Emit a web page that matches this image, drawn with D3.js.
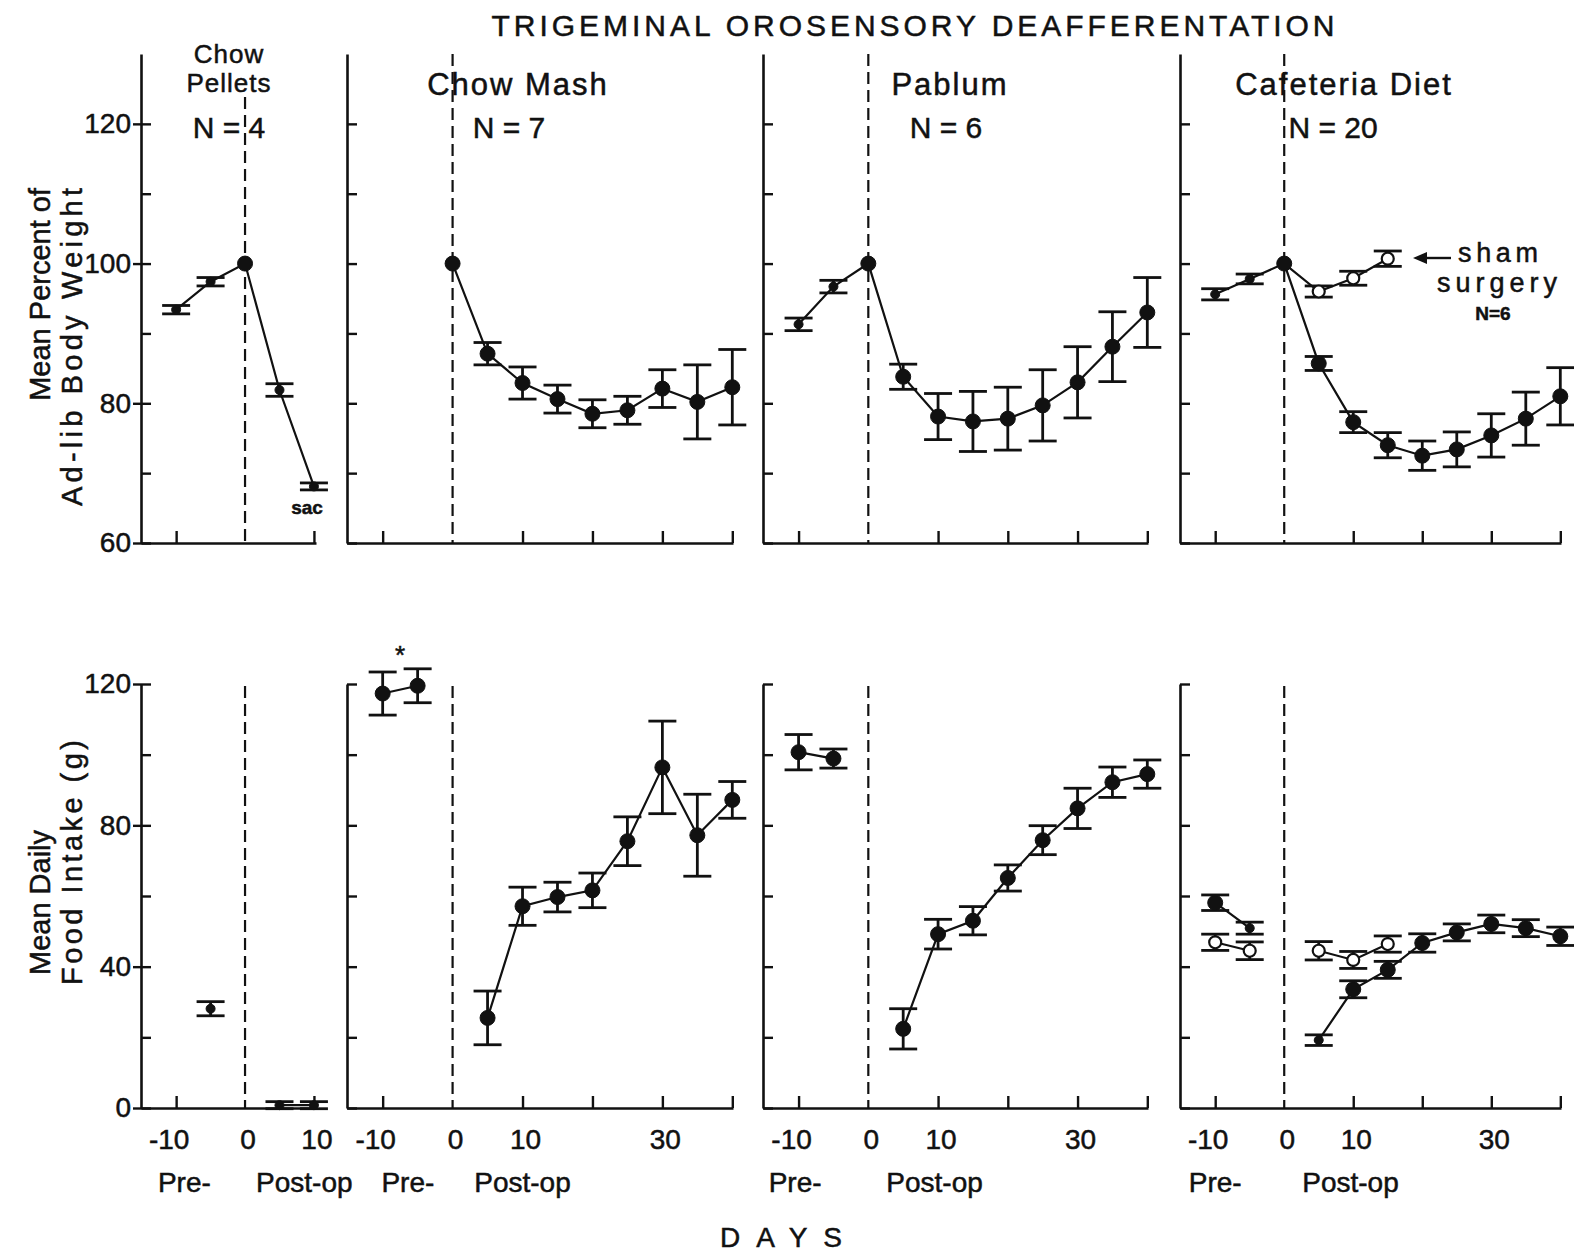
<!DOCTYPE html>
<html>
<head>
<meta charset="utf-8">
<script src="https://cdn.jsdelivr.net/npm/d3@7"></script>
<style>
  body { margin: 0; background: #fff; }
  text { font-family: "Liberation Sans", Arial, sans-serif; fill: #111; stroke: #111; stroke-width: 0.5px; }
</style>
</head>
<body>
<script>
// sampling days (day 0 = surgery)
const days = [-10, -5, 0, 5, 10, 15, 20, 25, 30, 35, 40];

// mean percent of ad-lib body weight (null = not measured)
const pelletsWeight    = [93.4, 97.4, 100, 81.9, 68.1, null, null, null, null, null, null];
const pelletsWeightErr = [0.6, 0.6, 0, 0.9, 0.5, null, null, null, null, null, null];
const mashWeight       = [null, null, 100, 87.1, 82.9, 80.6, 78.5, 79.0, 82.1, 80.2, 82.3];
const mashWeightErr    = [null, null, 0, 1.6, 2.3, 2.0, 2.0, 2.0, 2.7, 5.3, 5.4];
const pablumWeight     = [91.3, 96.7, 100, 83.8, 78.1, 77.4, 77.8, 79.7, 83.0, 88.1, 93.0];
const pablumWeightErr  = [0.9, 0.9, 0, 1.8, 3.3, 4.3, 4.5, 5.1, 5.1, 5.0, 5.0];
const cafWeight        = [95.6, 97.8, 100, 85.7, 77.3, 74.0, 72.5, 73.4, 75.4, 77.8, 81.0];
const cafWeightErr     = [0.8, 0.7, 0, 1.0, 1.5, 1.8, 2.1, 2.5, 3.1, 3.8, 4.1];
const shamWeight       = [null, null, 100, 96.0, 97.9, 100.7, null, null, null, null, null];
const shamWeightErr    = [null, null, 0, 0.8, 1.0, 1.1, null, null, null, null, null];

// mean daily food intake (g)
const pelletsIntake    = [null, 28.1, null, 0.8, 0.8, null, null, null, null, null, null];
const pelletsIntakeErr = [null, 2.0, null, 1.0, 1.0, null, null, null, null, null, null];
const mashIntake       = [117.3, 119.5, null, 25.5, 57.1, 59.7, 61.6, 75.5, 96.4, 77.2, 87.2];
const mashIntakeErr    = [6.1, 4.8, null, 7.6, 5.4, 4.2, 4.9, 6.9, 13.1, 11.6, 5.2];
const pablumIntake     = [100.7, 98.9, null, 22.4, 49.2, 53.0, 65.1, 75.8, 84.8, 92.2, 94.5];
const pablumIntakeErr  = [5.0, 2.7, null, 5.7, 4.2, 4.0, 3.7, 4.1, 5.7, 4.3, 4.0];
const cafIntake        = [58.1, 50.9, null, 19.2, 33.6, 39.1, 46.7, 49.7, 52.1, 50.9, 48.6];
const cafIntakeErr     = [2.2, 1.7, null, 1.5, 2.4, 2.4, 2.6, 2.4, 2.5, 2.4, 2.6];
const shamIntake       = [46.9, 44.5, null, 44.5, 41.9, 46.4, null, null, null, null, null];
const shamIntakeErr    = [2.3, 2.5, null, 2.6, 2.4, 2.3, null, null, null, null, null];

const panelTitles = [["Chow", "Pellets"], ["Chow  Mash"], ["Pablum"], ["Cafeteria  Diet"]];
const groupSizes = ["N = 4", "N = 7", "N = 6", "N = 20"];

// ---- layout ----
const width = 1574, height = 1255;
const svg = d3.select("body").append("svg")
    .attr("width", width)
    .attr("height", height);

const ink = "#111";

const yWeight = d3.scaleLinear().domain([60, 130]).range([543, 54]);
const yIntake = d3.scaleLinear().domain([0, 120]).range([1108, 684]);

const panels = [
    {left: 141, right: 316, maxDay: 10.3, xTicks: [-10, 10], xLabels: [-10, 0, 10], pre: -8.8, post: 8.6,
     titleX: 229, nX: 229, zeroTopW: 97,
     weight: [[pelletsWeight, pelletsWeightErr, false]], intake: [[pelletsIntake, pelletsIntakeErr, false]],
     smallW: [-10, -5, 5, 10], smallI: [-5, 5, 10]},
    {left: 347, right: 733, maxDay: 40.1, xTicks: [-10, 10, 20, 30, 40], xLabels: [-10, 0, 10, 30], pre: -6.4, post: 10,
     titleX: 518, nX: 509, zeroTopW: 54,
     weight: [[mashWeight, mashWeightErr, false]], intake: [[mashIntake, mashIntakeErr, false]],
     smallW: [], smallI: []},
    {left: 763, right: 1148, maxDay: 40.1, xTicks: [-10, 10, 20, 30, 40], xLabels: [-10, 0, 10, 30], pre: -10.5, post: 9.5,
     titleX: 950, nX: 946, zeroTopW: 54,
     weight: [[pablumWeight, pablumWeightErr, false]], intake: [[pablumIntake, pablumIntakeErr, false]],
     smallW: [-10, -5], smallI: []},
    {left: 1180, right: 1561, maxDay: 40.1, xTicks: [-10, 10, 20, 30, 40], xLabels: [-10, 0, 10, 30], pre: -10, post: 9.6,
     titleX: 1344, nX: 1333, zeroTopW: 54,
     weight: [[shamWeight, shamWeightErr, true], [cafWeight, cafWeightErr, false]],
     intake: [[shamIntake, shamIntakeErr, true], [cafIntake, cafIntakeErr, false]],
     smallW: [-10, -5], smallI: [-5, 5]}
];

panels.forEach((p, i) => {
    let x = d3.scaleLinear().domain([-15.1, p.maxDay]).range([p.left, p.right]);
    let g = svg.append("g").attr("class", "panel");

    drawRow(g, x, yWeight, d3.range(60, 121, 10), [60, 80, 100, 120], i, p.zeroTopW, p.weight, p.smallW);
    drawRow(g, x, yIntake, d3.range(0, 121, 20), [0, 40, 80, 120], i, 686, p.intake, p.smallI);

    // day labels under the food intake row
    g.selectAll(".daylabel")
        .data(p.xLabels)
        .enter().append("text")
        .attr("class", "daylabel")
        .attr("x", d => x(d) + (d < 0 ? -7 : 3))
        .attr("y", 1149)
        .attr("text-anchor", "middle")
        .attr("font-size", 28)
        .text(d => d);

    g.append("text").attr("x", x(p.pre)).attr("y", 1192)
        .attr("text-anchor", "middle").attr("font-size", 28).text("Pre-");
    g.append("text").attr("x", x(p.post)).attr("y", 1192)
        .attr("text-anchor", "middle").attr("font-size", 28).text("Post-op");

    // panel titles
    let t = panelTitles[i];
    if (t.length === 2) {
        g.append("text").attr("x", p.titleX).attr("y", 63).attr("text-anchor", "middle")
            .attr("font-size", 26).attr("letter-spacing", 1).text(t[0]);
        g.append("text").attr("x", p.titleX).attr("y", 92).attr("text-anchor", "middle")
            .attr("font-size", 26).attr("letter-spacing", 1).text(t[1]);
    } else {
        g.append("text").attr("x", p.titleX).attr("y", 95).attr("text-anchor", "middle")
            .attr("font-size", 31).attr("letter-spacing", 2).text(t[0]);
    }
    g.append("text").attr("x", p.nX).attr("y", 138).attr("text-anchor", "middle")
        .attr("font-size", 30).text(groupSizes[i]);
});

function drawRow(g, x, y, ticks, labelled, i, zeroTop, seriesList, smallDays) {
    let base = y.range()[0];
    let first = i === 0;

    let yAxis = d3.axisLeft(y)
        .tickValues(ticks)
        .tickSizeInner(-10)
        .tickSizeOuter(0)
        .tickPadding(first ? 10 : 3)
        .tickFormat(d => first && labelled.includes(d) ? d : "");

    let ya = g.append("g")
        .attr("transform", "translate(" + x.range()[0] + ",0)")
        .call(yAxis);
    if (first) {
        // labelled ticks cross the axis line
        ya.selectAll(".tick line").attr("x1", d => labelled.includes(d) ? -8 : 0);
    }

    let xAxis = d3.axisBottom(x)
        .tickValues(panels[i].xTicks)
        .tickSizeInner(-12)
        .tickSizeOuter(0)
        .tickFormat("");
    let xa = g.append("g")
        .attr("transform", "translate(0," + base + ")")
        .call(xAxis);

    [ya, xa].forEach(a => {
        a.attr("font-family", null).attr("font-size", null);
        a.select(".domain").attr("stroke", ink).attr("stroke-width", 2.6);
        a.selectAll(".tick line").attr("stroke", ink).attr("stroke-width", 2.4);
        a.selectAll(".tick text").attr("font-size", 28).attr("fill", ink);
    });

    // surgery day
    g.append("line")
        .attr("x1", x(0)).attr("x2", x(0))
        .attr("y1", zeroTop).attr("y2", base)
        .attr("stroke", ink)
        .attr("stroke-width", 2.2)
        .attr("stroke-dasharray", "12,6");

    let line = d3.line()
        .defined(d => d.v != null)
        .x(d => x(d.day))
        .y(d => y(d.v));

    seriesList.forEach(([vals, errs, open]) => {
        let pts = days.map((day, k) => ({day: day, v: vals[k], e: errs[k]}));
        let shown = pts.filter(d => d.v != null);

        g.append("path")
            .attr("d", line(pts))
            .attr("fill", "none")
            .attr("stroke", ink)
            .attr("stroke-width", 2.2);

        let bars = g.append("g").selectAll("g")
            .data(shown.filter(d => d.e > 0))
            .enter().append("g")
            .attr("stroke", ink)
            .attr("stroke-width", 2.8);
        bars.append("line")
            .attr("x1", d => x(d.day)).attr("x2", d => x(d.day))
            .attr("y1", d => y(d.v - d.e)).attr("y2", d => y(d.v + d.e));
        [-1, 1].forEach(s => {
            bars.append("line")
                .attr("x1", d => x(d.day) - 14).attr("x2", d => x(d.day) + 14)
                .attr("y1", d => y(d.v + s * d.e)).attr("y2", d => y(d.v + s * d.e));
        });

        g.append("g").selectAll("circle")
            .data(open ? shown.filter(d => d.day !== 0) : shown)
            .enter().append("circle")
            .attr("cx", d => x(d.day))
            .attr("cy", d => y(d.v))
            .attr("r", d => open ? 6 : (smallDays.includes(d.day) ? 4.5 : 7.5))
            .attr("fill", open ? "#fff" : ink)
            .attr("stroke", ink)
            .attr("stroke-width", open ? 2.2 : 1);
    });
}

// figure title and shared labels
svg.append("text")
    .attr("x", 913).attr("y", 36)
    .attr("text-anchor", "middle")
    .attr("font-size", 30)
    .attr("textLength", 843)
    .attr("lengthAdjust", "spacing")
    .text("TRIGEMINAL OROSENSORY DEAFFERENTATION");

svg.append("text")
    .attr("x", 781).attr("y", 1247)
    .attr("text-anchor", "middle")
    .attr("font-size", 28)
    .attr("textLength", 122)
    .attr("lengthAdjust", "spacing")
    .text("DAYS");

function yTitle(x, y, txt, anchor, len) {
    let t = svg.append("text")
        .attr("transform", "translate(" + x + "," + y + ") rotate(-90)")
        .attr("text-anchor", anchor)
        .attr("font-size", 29)
        .text(txt);
    if (len) t.attr("textLength", len).attr("lengthAdjust", "spacing");
}
yTitle(50, 188, "Mean Percent of", "end", 0);
yTitle(82, 188, "Ad-lib Body Weight", "end", 318);
yTitle(50, 975, "Mean Daily", "start", 0);
yTitle(82, 985, "Food Intake (g)", "start", 245);

// small annotations
svg.append("text").attr("x", 307).attr("y", 514).attr("text-anchor", "middle")
    .attr("font-size", 19).attr("font-weight", "bold").text("sac");
svg.append("text").attr("x", 400).attr("y", 664).attr("text-anchor", "middle")
    .attr("font-size", 26).text("*");

svg.append("line")
    .attr("x1", 1424).attr("x2", 1451).attr("y1", 258).attr("y2", 258)
    .attr("stroke", ink).attr("stroke-width", 2.4);
svg.append("path")
    .attr("d", "M1413,258 L1427,252 L1427,264 Z")
    .attr("fill", ink);
svg.append("text").attr("x", 1498).attr("y", 262).attr("text-anchor", "middle")
    .attr("font-size", 27).attr("textLength", 80).attr("lengthAdjust", "spacing").text("sham");
svg.append("text").attr("x", 1497).attr("y", 292).attr("text-anchor", "middle")
    .attr("font-size", 27).attr("textLength", 120).attr("lengthAdjust", "spacing").text("surgery");
svg.append("text").attr("x", 1493).attr("y", 320).attr("text-anchor", "middle")
    .attr("font-size", 19).attr("font-weight", "bold").text("N=6");
</script>
</body>
</html>
